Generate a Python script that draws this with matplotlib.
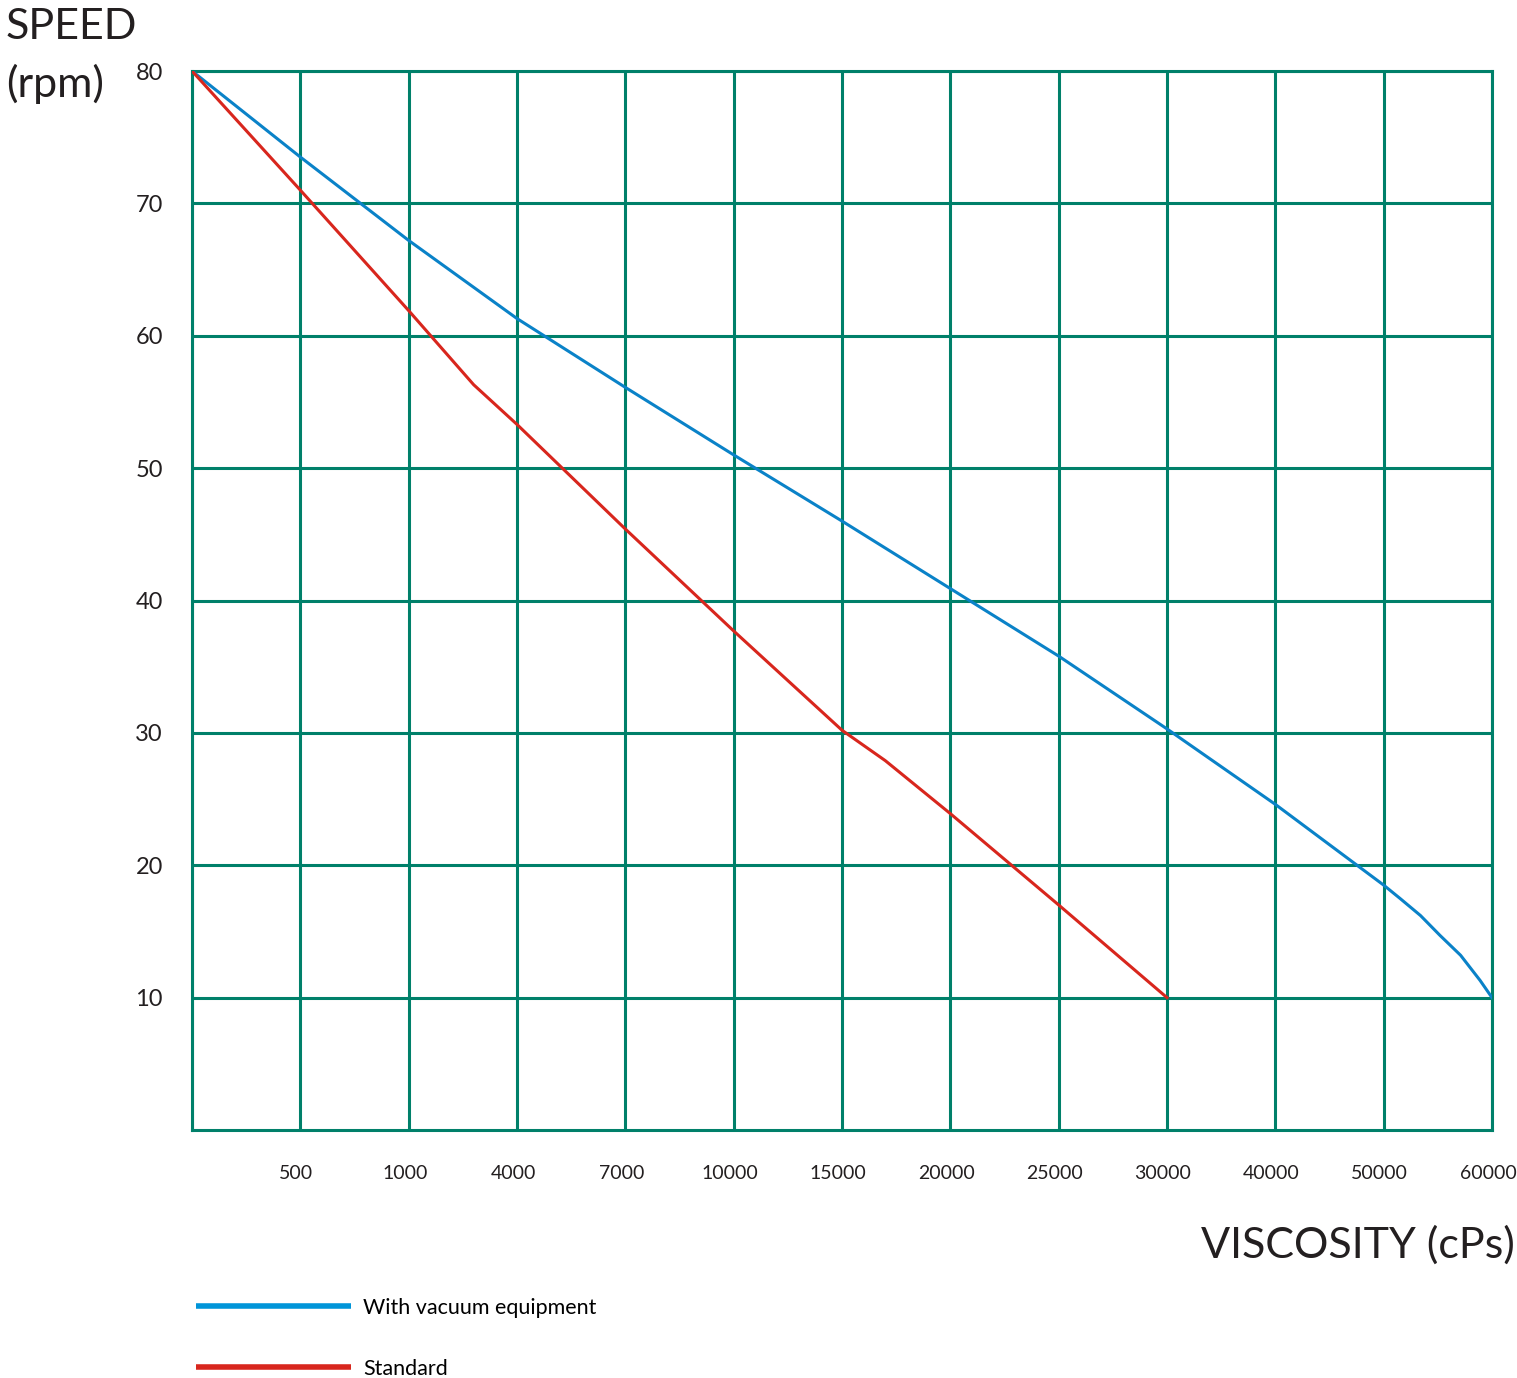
import numpy as np
import matplotlib.pyplot as plt
import matplotlib.transforms as mtransforms

# viscosity categories (evenly spaced on the chart)
viscosity_labels = ['', '500', '1000', '4000', '7000', '10000', '15000',
                    '20000', '25000', '30000', '40000', '50000', '60000']
speed_ticks = [10, 20, 30, 40, 50, 60, 70, 80]

# With vacuum equipment (position on category axis, rpm)
vac_pos = [0, 1, 2, 3, 4, 5, 6, 7, 8, 9, 10, 11, 11.15, 11.34, 11.52,
           11.71, 11.89, 12]
vac_rpm = [80, 73.5, 67.2, 61.3, 56.1, 51.0, 46.0, 40.9, 35.8, 30.3, 24.6,
           18.5, 17.5, 16.2, 14.7, 13.2, 11.3, 10]

# Standard
std_pos = [0, 1, 2, 2.6, 3, 4, 5, 6, 6.4, 7, 8, 9]
std_rpm = [80, 71.0, 61.9, 56.3, 53.3, 45.4, 37.7, 30.2, 27.9, 23.9, 17.0, 10]

grid_col = '#00806a'
blue = '#0a82c8'
red = '#d8261d'
txt = '#231f20'

plt.rcParams['font.family'] = ['Lato', 'DejaVu Sans']

fig = plt.figure(figsize=(15.17, 13.78), dpi=100)
ax = fig.add_axes([192/1517, 1-1130/1378, 1300/1517, 1059/1378])

ax.plot(vac_pos, vac_rpm, color=blue, lw=2.2, label='With vacuum equipment',
        zorder=3, solid_joinstyle='round')
ax.plot(std_pos, std_rpm, color=red, lw=2.2, label='Standard', zorder=3)

ax.set_xlim(0, 12)
ax.set_ylim(0, 80)
ax.set_xticks(range(len(viscosity_labels)))
ax.set_xticklabels(viscosity_labels, fontsize=14, color=txt)
ax.set_yticks(speed_ticks)
ax.set_yticklabels([str(v) for v in speed_ticks], fontsize=17, color=txt)
ax.tick_params(axis='both', length=0)
ax.tick_params(axis='x', pad=25)
ax.tick_params(axis='y', pad=21)
shift = mtransforms.ScaledTranslation(-4/100, 0, fig.dpi_scale_trans)
for lab in ax.get_xticklabels():
    lab.set_transform(lab.get_transform() + shift)
ax.grid(True, color=grid_col, lw=2.2)
for s in ax.spines.values():
    s.set_color(grid_col)
    s.set_linewidth(2.2)

fig.text(6/1517, 1-39/1378, 'SPEED', fontsize=31, color=txt,
         va='baseline', ha='left')
fig.text(6/1517, 1-97/1378, '(rpm)', fontsize=31, color=txt,
         va='baseline', ha='left')
fig.text(1515/1517, 1-1245/1378, 'VISCOSITY (cPs)', fontsize=31,
         color=txt, va='center', ha='right')

leg = ax.legend(loc='upper left', bbox_to_anchor=(196/1517, 1-1298/1378),
                bbox_transform=fig.transFigure, frameon=False, fontsize=15.5,
                handlelength=7.2, handletextpad=0.55, labelspacing=1.9,
                borderpad=0, borderaxespad=0)
for h in leg.get_lines():
    h.set_linewidth(4)
    h.set_solid_capstyle('butt')
leg.get_lines()[0].set_color('#0095d9')

fig.savefig('out.png', dpi=100)
